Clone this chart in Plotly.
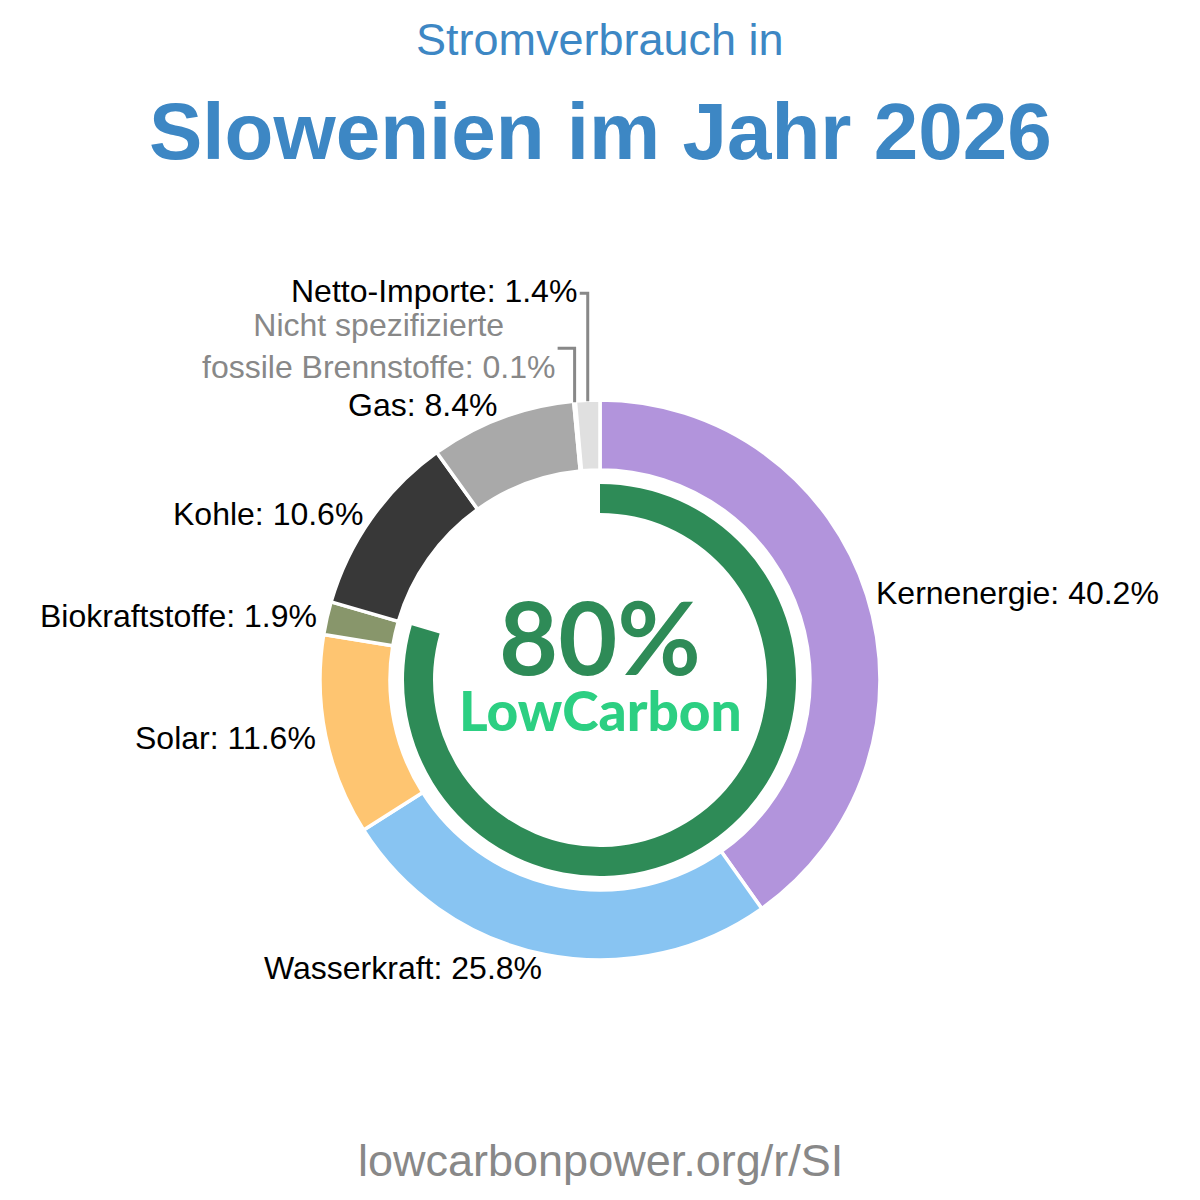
import math
import plotly.graph_objects as go

# ---- data ----
sources = ["Kernenergie", "Wasserkraft", "Solar", "Biokraftstoffe", "Kohle", "Gas",
           "Nicht spezifizierte fossile Brennstoffe", "Netto-Importe"]
shares = [40.2, 25.8, 11.6, 1.9, 10.6, 8.4, 0.1, 1.4]
colors = ["#b294dc", "#88c4f2", "#fec571", "#88966b", "#383838", "#a9a9a9", "#8a8a8a", "#e0e0e0"]
low_carbon_sources = ["Kernenergie", "Wasserkraft", "Solar", "Biokraftstoffe"]
title_small = "Stromverbrauch in"
title_big = "Slowenien im Jahr 2026"
footer = "lowcarbonpower.org/r/SI"

W = H = 1200
CX, CY = 600, 680
R_OUT = 280
HOLE_OUT = 0.75
R_IN = 196
HOLE_IN = 0.852
FONT = "Liberation Sans, Arial, sans-serif"
LABEL_SIZE = 32


def px(x):
    return x / W


def py(y):
    return 1 - y / H


low_carbon = sum(s for n, s in zip(sources, shares) if n in low_carbon_sources)
total = sum(shares)

fig = go.Figure()
fig.add_trace(go.Pie(
    values=shares, labels=sources, sort=False, direction="clockwise", rotation=0,
    hole=HOLE_OUT, textinfo="none", hoverinfo="none",
    marker=dict(colors=colors, line=dict(color="white", width=3.5)),
    domain=dict(x=[px(CX - R_OUT), px(CX + R_OUT)], y=[py(CY + R_OUT), py(CY - R_OUT)]),
    showlegend=False,
))
fig.add_trace(go.Pie(
    values=[low_carbon, total - low_carbon], sort=False, direction="clockwise", rotation=0,
    hole=HOLE_IN, textinfo="none", hoverinfo="none",
    marker=dict(colors=["#2e8b57", "rgba(0,0,0,0)"], line=dict(width=0)),
    domain=dict(x=[px(CX - R_IN), px(CX + R_IN)], y=[py(CY + R_IN), py(CY - R_IN)]),
    showlegend=False,
))

annotations = []
shapes = []
cum = 0.0
LABEL_R = 288
for name, val in zip(sources, shares):
    mid = (cum + val / 2) / total * 360
    cum += val
    s, c = math.sin(math.radians(mid)), math.cos(math.radians(mid))
    if name == "Netto-Importe" or name.startswith("Nicht"):
        x0 = CX + (R_OUT - 1) * s
        y0 = CY - (R_OUT - 1) * c
        if name == "Netto-Importe":
            ey, ex = y0 - 108, x0 - 8
            text = f"{name}: {val:.1f}%"
            col = "black"
        else:
            ey, ex = y0 - 54, x0 - 17
            text = f"Nicht spezifizierte<br>fossile Brennstoffe: {val:.1f}%"
            col = "#888888"
        shapes.append(dict(type="path", xref="paper", yref="paper",
                           path=f"M {px(x0)} {py(y0)} L {px(x0)} {py(ey)} L {px(ex)} {py(ey)}",
                           line=dict(color="#888888", width=3)))
        annotations.append(dict(x=px(ex - 1), y=py(ey - 2), xref="paper", yref="paper",
                                text=text, showarrow=False, xanchor="right", yanchor="middle",
                                align="center", font=dict(family=FONT, size=LABEL_SIZE, color=col)))
    else:
        x = CX + LABEL_R * s
        y = CY - LABEL_R * c
        if name == "Gas":
            y -= 5
        if name == "Wasserkraft":
            y += 5
        annotations.append(dict(x=px(x), y=py(y), xref="paper", yref="paper",
                                text=f"{name}: {val:.1f}%", showarrow=False,
                                xanchor="left" if s > 0 else "right", yanchor="middle",
                                font=dict(family=FONT, size=LABEL_SIZE, color="black")))

annotations += [
    dict(x=0.5, y=py(40), xref="paper", yref="paper", text=title_small, showarrow=False,
         xanchor="center", yanchor="middle", font=dict(family=FONT, size=45, color="#3d87c4")),
    dict(x=0.5, y=py(132), xref="paper", yref="paper", text=f"<b>{title_big}</b>", showarrow=False,
         xanchor="center", yanchor="middle", font=dict(family=FONT, size=80, color="#3d87c4")),
    dict(x=0.5, y=py(1160), xref="paper", yref="paper", text=footer, showarrow=False,
         xanchor="center", yanchor="middle", font=dict(family=FONT, size=45, color="#888888")),
    dict(x=0.5, y=py(635), xref="paper", yref="paper", text=f"<b>{round(low_carbon):d}%</b>",
         showarrow=False, xanchor="center", yanchor="middle",
         font=dict(family="Lato, sans-serif", size=102, color="#2e8b57")),
    dict(x=0.5, y=py(710), xref="paper", yref="paper", text="LowCarbon",
         showarrow=False, xanchor="center", yanchor="middle",
         font=dict(family="Lato, sans-serif", size=55, color="#2ccf82", weight=900)),
]

fig.update_layout(
    width=W, height=H, margin=dict(l=0, r=0, t=0, b=0),
    paper_bgcolor="white", plot_bgcolor="white",
    annotations=annotations, shapes=shapes,
)
fig.write_html("out.html")
